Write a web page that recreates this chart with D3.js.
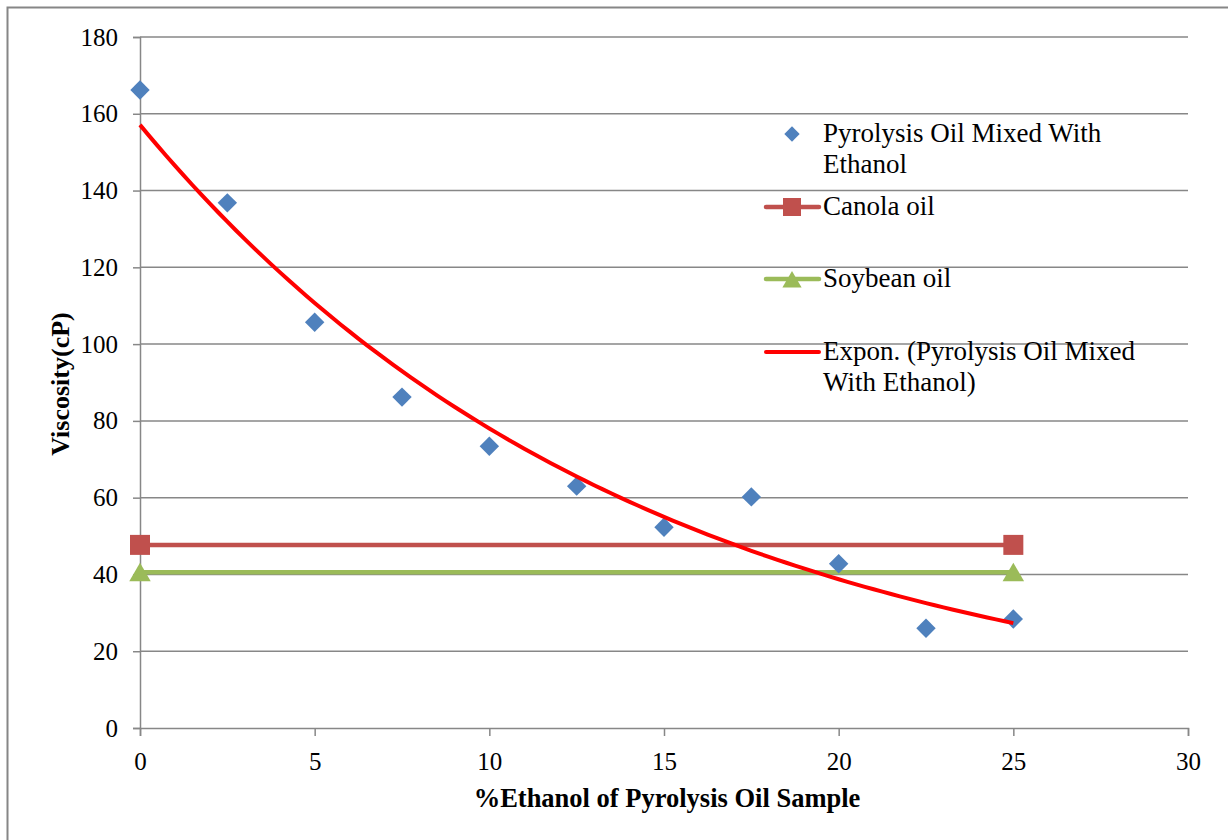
<!DOCTYPE html>
<html>
<head>
<meta charset="utf-8">
<script src="https://cdn.jsdelivr.net/npm/d3@7"></script>
<style>
  body { margin: 0; background: #fff; }
  svg { display: block; }
  svg text { font-family: "Liberation Serif", "Times New Roman", serif !important; fill: #000; }
</style>
</head>
<body>
<svg id="chart" width="1228" height="840"></svg>
<script>
// Ethanol content (%) and measured viscosity (cP) of pyrolysis oil blends
const ethanolPct = [0, 2.5, 5, 7.5, 10, 12.5, 15, 17.5, 20, 22.5, 25];
const viscosity  = [166.2, 136.8, 105.7, 86.2, 73.4, 63.0, 52.3, 60.2, 42.8, 26.0, 28.4];

// Reference oils, drawn as flat lines across the blend range
const canolaX = [0, 25];
const canolaY = [47.7, 47.7];
const soybeanX = [0, 25];
const soybeanY = [40.6, 40.6];

const xTicks = [0, 5, 10, 15, 20, 25, 30];
const yTicks = [0, 20, 40, 60, 80, 100, 120, 140, 160, 180];

const legendLabels = [
  ["Pyrolysis Oil Mixed With", "Ethanol"],
  ["Canola oil"],
  ["Soybean oil"],
  ["Expon. (Pyrolysis Oil Mixed", "With Ethanol)"]
];

const svg = d3.select("#chart");
const plot = { left: 140, right: 1188, top: 37, bottom: 728 };

const x = d3.scaleLinear().domain([0, 30]).range([plot.left, plot.right]);
const y = d3.scaleLinear().domain([0, 180]).range([plot.bottom, plot.top]);

const gridColor = "#878787";
const tickFont = "25px";

// outer chart frame
svg.append("rect")
  .attr("x", 7.5).attr("y", 7.5)
  .attr("width", 1240).attr("height", 850)
  .attr("fill", "none").attr("stroke", "#868686").attr("stroke-width", 2);

// horizontal gridlines
svg.append("g").selectAll("line")
  .data(yTicks.filter(d => d > 0))
  .join("line")
  .attr("x1", plot.left).attr("x2", plot.right)
  .attr("y1", d => y(d)).attr("y2", d => y(d))
  .attr("stroke", gridColor).attr("stroke-width", 1.5);

// y axis
const yAxis = svg.append("g")
  .attr("transform", `translate(${plot.left},0)`)
  .call(d3.axisLeft(y).tickValues(yTicks).tickSize(7).tickPadding(15).tickFormat(d3.format("d")));
yAxis.select(".domain").attr("stroke", gridColor).attr("stroke-width", 1.5);
yAxis.selectAll(".tick line").attr("stroke", gridColor).attr("stroke-width", 1.5);
yAxis.selectAll(".tick text").style("font-size", tickFont).attr("fill", "#000");

// x axis
const xAxis = svg.append("g")
  .attr("transform", `translate(0,${plot.bottom})`)
  .call(d3.axisBottom(x).tickValues(xTicks).tickSize(8).tickPadding(16).tickFormat(d3.format("d")));
xAxis.select(".domain").attr("stroke", gridColor).attr("stroke-width", 1.5);
xAxis.selectAll(".tick line").attr("stroke", gridColor).attr("stroke-width", 1.5);
xAxis.selectAll(".tick text").style("font-size", tickFont).attr("fill", "#000");

// axis titles
svg.append("text")
  .attr("x", 667).attr("y", 807)
  .attr("text-anchor", "middle").style("font-size", "26.5px").style("font-weight", "bold")
  .text("%Ethanol of Pyrolysis Oil Sample");
svg.append("text")
  .attr("transform", `translate(69,384) rotate(-90)`)
  .attr("text-anchor", "middle").style("font-size", "26px").style("font-weight", "bold")
  .text("Viscosity(cP)");

// exponential least-squares fit of ln(viscosity) against ethanol %
const lnY = viscosity.map(Math.log);
const mx = d3.mean(ethanolPct), my = d3.mean(lnY);
const sxy = d3.sum(ethanolPct, (v, i) => (v - mx) * (lnY[i] - my));
const sxx = d3.sum(ethanolPct, v => (v - mx) ** 2);
const rate = sxy / sxx;
const amp = Math.exp(my - rate * mx);
const fitX = d3.range(0, 25.0001, 0.25);
const line = d3.line().x(d => x(d[0])).y(d => y(d[1]));

// reference oil lines
const canolaColor = "#c0504d";
const soyColor = "#9bbb59";
const blue = "#4f81bd";

svg.append("path")
  .datum(canolaX.map((v, i) => [v, canolaY[i]]))
  .attr("d", line).attr("fill", "none").attr("stroke", canolaColor).attr("stroke-width", 4.5);
svg.append("path")
  .datum(soybeanX.map((v, i) => [v, soybeanY[i]]))
  .attr("d", line).attr("fill", "none").attr("stroke", soyColor).attr("stroke-width", 4.5);

svg.append("g").selectAll("rect")
  .data(canolaX.map((v, i) => [v, canolaY[i]]))
  .join("rect")
  .attr("x", d => x(d[0]) - 10).attr("y", d => y(d[1]) - 10)
  .attr("width", 20).attr("height", 20).attr("fill", canolaColor);

const tri = d3.symbol().type(d3.symbolTriangle).size(200);
svg.append("g").selectAll("path")
  .data(soybeanX.map((v, i) => [v, soybeanY[i]]))
  .join("path")
  .attr("d", tri)
  .attr("transform", d => `translate(${x(d[0])},${y(d[1]) + 3})`)
  .attr("fill", soyColor);

// measured blend points
const diamond = d3.symbol().type(d3.symbolDiamond2).size(240);
svg.append("g").selectAll("path")
  .data(ethanolPct.map((v, i) => [v, viscosity[i]]))
  .join("path")
  .attr("d", diamond)
  .attr("transform", d => `translate(${x(d[0])},${y(d[1])})`)
  .attr("fill", blue);

// fitted trendline
svg.append("path")
  .datum(fitX.map(v => [v, amp * Math.exp(rate * v)]))
  .attr("d", line).attr("fill", "none").attr("stroke", "#ff0000").attr("stroke-width", 4);

// legend
const lg = svg.append("g");
const textX = 823;
const legendRows = [134, 207, 279, 352];

lg.append("path").attr("d", d3.symbol().type(d3.symbolDiamond2).size(150))
  .attr("transform", `translate(792,${legendRows[0]})`).attr("fill", blue);

lg.append("line").attr("x1", 766).attr("x2", 819).attr("y1", legendRows[1]).attr("y2", legendRows[1])
  .attr("stroke", canolaColor).attr("stroke-width", 4.5).attr("stroke-linecap", "round");
lg.append("rect").attr("x", 783).attr("y", legendRows[1] - 9).attr("width", 18).attr("height", 18)
  .attr("fill", canolaColor);

lg.append("line").attr("x1", 766).attr("x2", 819).attr("y1", legendRows[2]).attr("y2", legendRows[2])
  .attr("stroke", soyColor).attr("stroke-width", 4.5).attr("stroke-linecap", "round");
lg.append("path").attr("d", d3.symbol().type(d3.symbolTriangle).size(160))
  .attr("transform", `translate(792,${legendRows[2] + 3})`).attr("fill", soyColor);

lg.append("line").attr("x1", 766).attr("x2", 819).attr("y1", legendRows[3]).attr("y2", legendRows[3])
  .attr("stroke", "#ff0000").attr("stroke-width", 4).attr("stroke-linecap", "round");

legendLabels.forEach((lines, i) => {
  const t = lg.append("text").attr("x", textX).attr("y", legendRows[i] + 8).style("font-size", "27px");
  lines.forEach((s, j) => {
    t.append("tspan").attr("x", textX).attr("dy", j === 0 ? 0 : 30.5).text(s);
  });
});
</script>
</body>
</html>
